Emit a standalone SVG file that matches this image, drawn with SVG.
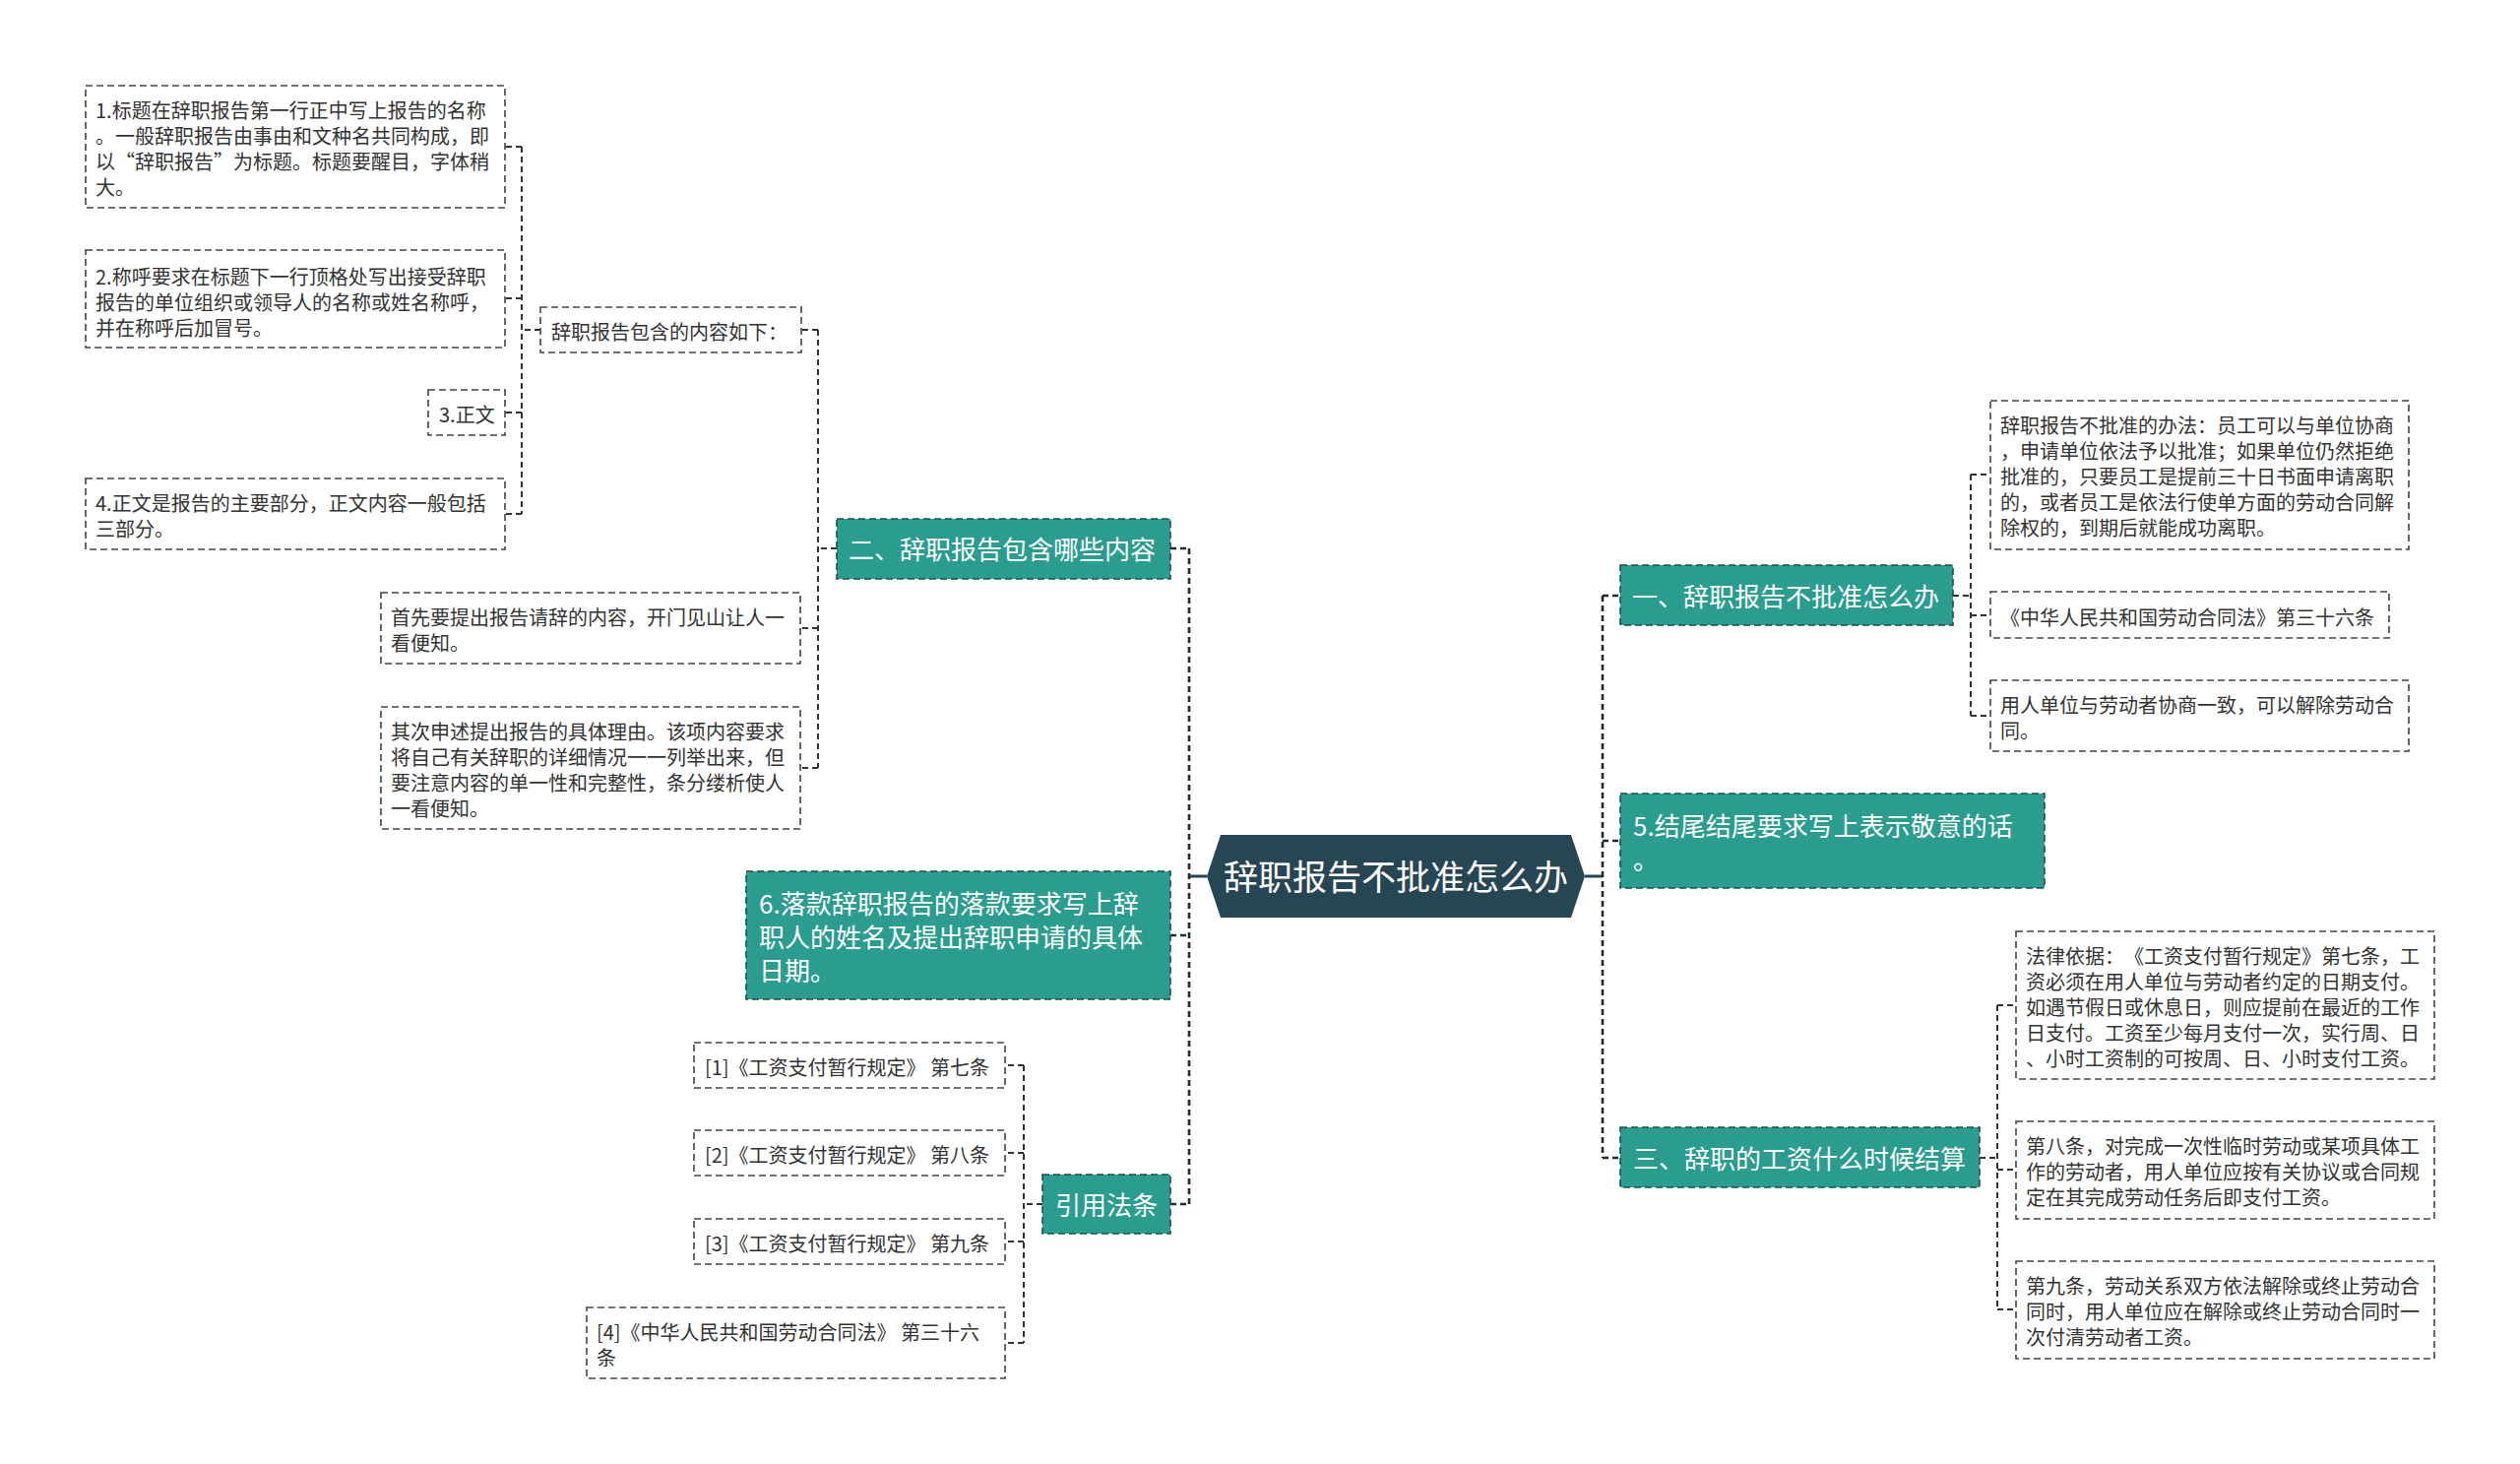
<svg xmlns="http://www.w3.org/2000/svg" width="2560" height="1487" viewBox="0 0 2560 1487">
<defs>
<style>
.bg{fill:#ffffff}
text{text-spacing-trim:space-all}
.g rect{fill:#ffffff;stroke:#444444;stroke-width:1.6;stroke-dasharray:7 4}
.g text{font-family:"Noto Sans CJK SC","Noto Sans",sans-serif;font-size:20px;fill:#333333;transform:translate(0px,3px)}
.t rect{fill:#2a9d8f;stroke:#1f4f4a;stroke-width:1.6;stroke-dasharray:7 4}
.t text{font-family:"Noto Sans CJK SC","Noto Sans",sans-serif;font-size:26px;fill:#ffffff;transform:translate(0px,2px)}
.c polygon{fill:#264653}
.c text{font-family:"Noto Sans CJK SC","Noto Sans",sans-serif;font-size:35px;fill:#ffffff;transform:translate(0px,2px)}
.links path{fill:none;stroke:#333333;stroke-width:2;stroke-dasharray:6 4}
.links path.solid{stroke:#264653;stroke-width:3;stroke-dasharray:none}
.links path.trunk{stroke:#1e2b30;stroke-width:2.6}
</style>
</defs>
<rect class="bg" x="0" y="0" width="2560" height="1487"/>

<g id="connectors" class="links">
<path class="solid" d="M1226 890H1208"/>
<path class="solid" d="M1610 890H1628"/>
<path class="trunk" d="M1208 557V1223"/>
<path class="trunk" d="M1189 557H1208M1189 950H1208M1189 1223H1208"/>
<path class="trunk" d="M1628 605V1176"/>
<path class="trunk" d="M1628 605H1646M1628 854H1646M1628 1176H1646"/>
<path d="M831 335V780M850 557H831M831 335H814M831 638H813M831 780H813"/>
<path d="M530 149V522M549 335H530M530 149H513M530 303H513M530 419H513M530 522H513"/>
<path d="M1040 1082V1364M1059 1223H1040M1040 1082H1021M1040 1171H1021M1040 1261H1021M1040 1364H1021"/>
<path d="M2002 482V727M1984 605H2002M2002 482H2022M2002 625H2022M2002 727H2022"/>
<path d="M2029 1021V1330M2011 1176H2029M2029 1021H2048M2029 1188H2048M2029 1330H2048"/>
</g>

<g id="center" class="c">
<polygon points="1226,890 1240,848 1596,848 1610,890 1596,932 1240,932"/>
<text x="1418" y="902" text-anchor="middle">辞职报告不批准怎么办</text>
</g>

<g id="n-er" class="t">
<rect x="850" y="527" width="339" height="61"/>
<text x="862" y="566">二、辞职报告包含哪些内容</text>
</g>
<g id="n-contents" class="g">
<rect x="549" y="312" width="265" height="46"/>
<text x="560" y="342">辞职报告包含的内容如下：</text>
</g>
<g id="n-1" class="g">
<rect x="87" y="87" width="426" height="124"/>
<text x="97" y="117">1.标题在辞职报告第一行正中写上报告的名称</text>
<text x="97" y="143">。一般辞职报告由事由和文种名共同构成，即</text>
<text x="97" y="169">以“辞职报告”为标题。标题要醒目，字体稍</text>
<text x="97" y="195">大。</text>
</g>
<g id="n-2" class="g">
<rect x="87" y="254" width="426" height="99"/>
<text x="97" y="286">2.称呼要求在标题下一行顶格处写出接受辞职</text>
<text x="97" y="312">报告的单位组织或领导人的名称或姓名称呼，</text>
<text x="97" y="338">并在称呼后加冒号。</text>
</g>
<g id="n-3" class="g">
<rect x="435" y="396" width="78" height="46"/>
<text x="446" y="426">3.正文</text>
</g>
<g id="n-4" class="g">
<rect x="87" y="486" width="426" height="72"/>
<text x="97" y="516">4.正文是报告的主要部分，正文内容一般包括</text>
<text x="97" y="542">三部分。</text>
</g>
<g id="n-first" class="g">
<rect x="387" y="602" width="426" height="72"/>
<text x="397" y="632">首先要提出报告请辞的内容，开门见山让人一</text>
<text x="397" y="658">看便知。</text>
</g>
<g id="n-second" class="g">
<rect x="387" y="718" width="426" height="124"/>
<text x="397" y="748">其次申述提出报告的具体理由。该项内容要求</text>
<text x="397" y="774">将自己有关辞职的详细情况一一列举出来，但</text>
<text x="397" y="800">要注意内容的单一性和完整性，条分缕析使人</text>
<text x="397" y="826">一看便知。</text>
</g>

<g id="n-6" class="t">
<rect x="758" y="885" width="431" height="130"/>
<text x="771" y="926">6.落款辞职报告的落款要求写上辞</text>
<text x="771" y="960">职人的姓名及提出辞职申请的具体</text>
<text x="771" y="994">日期。</text>
</g>

<g id="n-law" class="t">
<rect x="1059" y="1193" width="130" height="60"/>
<text x="1072" y="1232">引用法条</text>
</g>
<g id="n-law1" class="g">
<rect x="705" y="1059" width="316" height="46"/>
<text x="716" y="1089">[1]《工资支付暂行规定》 第七条</text>
</g>
<g id="n-law2" class="g">
<rect x="705" y="1148" width="316" height="46"/>
<text x="716" y="1178">[2]《工资支付暂行规定》 第八条</text>
</g>
<g id="n-law3" class="g">
<rect x="705" y="1238" width="316" height="46"/>
<text x="716" y="1268">[3]《工资支付暂行规定》 第九条</text>
</g>
<g id="n-law4" class="g">
<rect x="596" y="1328" width="425" height="72"/>
<text x="606" y="1358">[4]《中华人民共和国劳动合同法》 第三十六</text>
<text x="606" y="1384">条</text>
</g>

<g id="n-yi" class="t">
<rect x="1646" y="574" width="338" height="61"/>
<text x="1658" y="614">一、辞职报告不批准怎么办</text>
</g>
<g id="n-method" class="g">
<rect x="2022" y="407" width="425" height="151"/>
<text x="2032" y="437">辞职报告不批准的办法：员工可以与单位协商</text>
<text x="2032" y="463">，申请单位依法予以批准；如果单位仍然拒绝</text>
<text x="2032" y="489">批准的，只要员工是提前三十日书面申请离职</text>
<text x="2032" y="515">的，或者员工是依法行使单方面的劳动合同解</text>
<text x="2032" y="541">除权的，到期后就能成功离职。</text>
</g>
<g id="n-art36" class="g">
<rect x="2022" y="601" width="405" height="47"/>
<text x="2032" y="632">《中华人民共和国劳动合同法》第三十六条</text>
</g>
<g id="n-agree" class="g">
<rect x="2022" y="691" width="425" height="72"/>
<text x="2032" y="721">用人单位与劳动者协商一致，可以解除劳动合</text>
<text x="2032" y="747">同。</text>
</g>

<g id="n-5" class="t">
<rect x="1646" y="806" width="431" height="96"/>
<text x="1659" y="847">5.结尾结尾要求写上表示敬意的话</text>
<text x="1659" y="881">。</text>
</g>

<g id="n-san" class="t">
<rect x="1646" y="1145" width="365" height="61"/>
<text x="1659" y="1185">三、辞职的工资什么时候结算</text>
</g>
<g id="n-basis" class="g">
<rect x="2048" y="946" width="425" height="150"/>
<text x="2058" y="976">法律依据：《工资支付暂行规定》第七条，工</text>
<text x="2058" y="1002">资必须在用人单位与劳动者约定的日期支付。</text>
<text x="2058" y="1028">如遇节假日或休息日，则应提前在最近的工作</text>
<text x="2058" y="1054">日支付。工资至少每月支付一次，实行周、日</text>
<text x="2058" y="1080">、小时工资制的可按周、日、小时支付工资。</text>
</g>
<g id="n-art8" class="g">
<rect x="2048" y="1139" width="425" height="99"/>
<text x="2058" y="1169">第八条，对完成一次性临时劳动或某项具体工</text>
<text x="2058" y="1195">作的劳动者，用人单位应按有关协议或合同规</text>
<text x="2058" y="1221">定在其完成劳动任务后即支付工资。</text>
</g>
<g id="n-art9" class="g">
<rect x="2048" y="1281" width="425" height="99"/>
<text x="2058" y="1311">第九条，劳动关系双方依法解除或终止劳动合</text>
<text x="2058" y="1337">同时，用人单位应在解除或终止劳动合同时一</text>
<text x="2058" y="1363">次付清劳动者工资。</text>
</g>
</svg>
